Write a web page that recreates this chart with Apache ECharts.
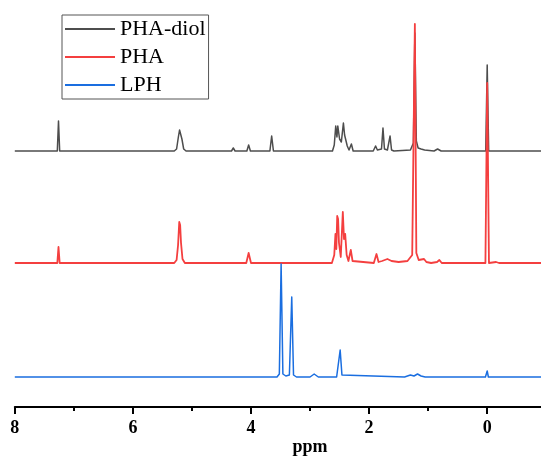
<!DOCTYPE html>
<html>
<head>
<meta charset="utf-8">
<title>1H NMR spectra</title>
<script src="https://cdn.jsdelivr.net/npm/echarts@6/dist/echarts.min.js"></script>
<style>
  html, body { margin: 0; padding: 0; background: #fff; }
  #chart { width: 541px; height: 458px; }
</style>
</head>
<body>
<div id="chart"></div>
<script>
// Series names shown in the legend
const seriesNames = ['PHA-diol', 'PHA', 'LPH'];

// Labelled chemical-shift ticks (ppm)
const tickLabels = [8, 6, 4, 2, 0];

// Spectrum traces as [ppm, intensity] points, intensity relative to each trace's baseline
const phaDiol = [
  [8.00, 0],
  [7.28, 0], [7.26, 30], [7.24, 0],
  [5.30, 0], [5.26, 2], [5.23, 14], [5.21, 21], [5.19, 20], [5.17, 12], [5.14, 2], [5.10, 0],
  [4.33, 0], [4.30, 3], [4.27, 0],
  [4.07, 0], [4.04, 6], [4.01, 0],
  [3.68, 0], [3.65, 15], [3.62, 0],
  [2.62, 0], [2.59, 6], [2.565, 25], [2.545, 14], [2.53, 25], [2.50, 12], [2.47, 9],
  [2.435, 28], [2.415, 16], [2.395, 18], [2.37, 5], [2.34, 1], [2.30, 7], [2.27, 0],
  [1.93, 0], [1.89, 5], [1.86, 1], [1.79, 2], [1.765, 23], [1.74, 2], [1.69, 1],
  [1.645, 15], [1.62, 1], [1.58, 0],
  [1.30, 1], [1.25, 8], [1.225, 118], [1.20, 10], [1.17, 3], [1.12, 2], [1.06, 1],
  [0.90, 0], [0.84, 2], [0.78, 0],
  [0.025, 0], [0.00, 86], [-0.025, 0],
  [-1.00, 0]
];

const pha = [
  [8.00, 0],
  [7.28, 0], [7.26, 16], [7.24, 0],
  [5.30, 0], [5.26, 3], [5.235, 18], [5.215, 41], [5.20, 38], [5.185, 20], [5.16, 4], [5.12, 0],
  [4.08, 0], [4.04, 10], [4.00, 0],
  [3.51, 0], [3.48, 1], [3.45, 0],
  [2.63, 0], [2.59, 8], [2.57, 29], [2.555, 14], [2.54, 47], [2.525, 44], [2.51, 20], [2.48, 6],
  [2.445, 51], [2.425, 24], [2.405, 29], [2.38, 8], [2.35, 2], [2.31, 13], [2.28, 2], [2.25, 0],
  [1.92, 0], [1.875, 9], [1.84, 1], [1.78, 2], [1.69, 4], [1.62, 2], [1.50, 1], [1.35, 2],
  [1.27, 8], [1.225, 239], [1.20, 10], [1.16, 3], [1.13, 1], [1.07, 4], [1.03, 1],
  [0.95, 0], [0.85, 1], [0.81, 3], [0.77, 0],
  [0.03, 0], [0.00, 180], [-0.03, 0], [-0.15, 1], [-0.20, 0],
  [-1.00, 0]
];

const lph = [
  [8.00, 0],
  [7.28, 0], [7.25, 1], [7.22, 0],
  [5.73, 0], [5.70, 1], [5.67, 0],
  [4.05, 0], [4.02, 2], [3.99, 0],
  [3.56, 0], [3.52, 3], [3.49, 113], [3.46, 3], [3.41, 1], [3.35, 2], [3.31, 80], [3.28, 2], [3.23, 0],
  [3.00, 0], [2.93, 3], [2.86, 0],
  [2.55, 0], [2.52, 2], [2.49, 27], [2.46, 2], [2.43, 0],
  [1.40, 0], [1.30, 2], [1.24, 1], [1.18, 3], [1.12, 1], [1.05, 0],
  [0.03, 0], [0.00, 6], [-0.02, 0],
  [-1.00, 0]
];

const traces = [phaDiol, pha, lph];
const colors = ['#4d4d4d', '#f43f3f', '#1a6ee0'];
const widths = [1.5, 1.8, 1.5];
// vertical stacking of the traces (baseline height in y-axis units)
const stackOffsets = [256, 144, 30];

const chart = echarts.init(document.getElementById('chart'), null, { renderer: 'canvas' });

const serif = '"Liberation Serif", "Times New Roman", serif';

chart.setOption({
  animation: false,
  backgroundColor: '#ffffff',
  // the ppm axis runs from 8 to -2; the plot area extends past the right edge of the page
  grid: { left: 14.8, top: 7, width: 590.5, height: 400, containLabel: false, outerBoundsMode: 'none' },
  legend: {
    orient: 'vertical',
    left: 62,
    top: 15,
    padding: [3, 3, 3, 2],
    itemWidth: 50,
    itemHeight: 22,
    itemGap: 6,
    borderColor: '#555',
    borderWidth: 1,
    itemStyle: { opacity: 0 },
    lineStyle: { width: 2 },
    textStyle: { fontFamily: serif, fontSize: 22, color: '#000', padding: [0, 0, 0, 0] },
    data: seriesNames
  },
  xAxis: {
    type: 'value',
    inverse: true,
    min: -2,
    max: 8,
    interval: 2,
    name: 'ppm',
    nameLocation: 'middle',
    nameGap: 31,
    nameMoveOverlap: false,
    nameTextStyle: { fontFamily: serif, fontSize: 18, fontWeight: 'bold', color: '#000' },
    axisLine: { show: true, onZero: false, lineStyle: { color: '#000', width: 2 } },
    axisTick: { show: true, length: 7, lineStyle: { color: '#000', width: 2 } },
    minorTick: { show: true, splitNumber: 2, length: 4, lineStyle: { color: '#000', width: 2 } },
    splitLine: { show: false },
    axisLabel: {
      margin: 12,
      fontFamily: serif,
      fontSize: 18,
      fontWeight: 'bold',
      color: '#000',
      formatter: v => (tickLabels.includes(v) ? String(v) : '')
    }
  },
  yAxis: { type: 'value', min: 0, max: 400, show: false },
  series: traces.map((pts, i) => ({
    name: seriesNames[i],
    type: 'line',
    symbol: 'none',
    silent: true,
    z: 2 + i,
    lineStyle: { color: colors[i], width: widths[i], join: 'round' },
    itemStyle: { color: colors[i] },
    data: pts.map(p => [p[0], p[1] + stackOffsets[i]])
  }))
});
</script>
</body>
</html>
